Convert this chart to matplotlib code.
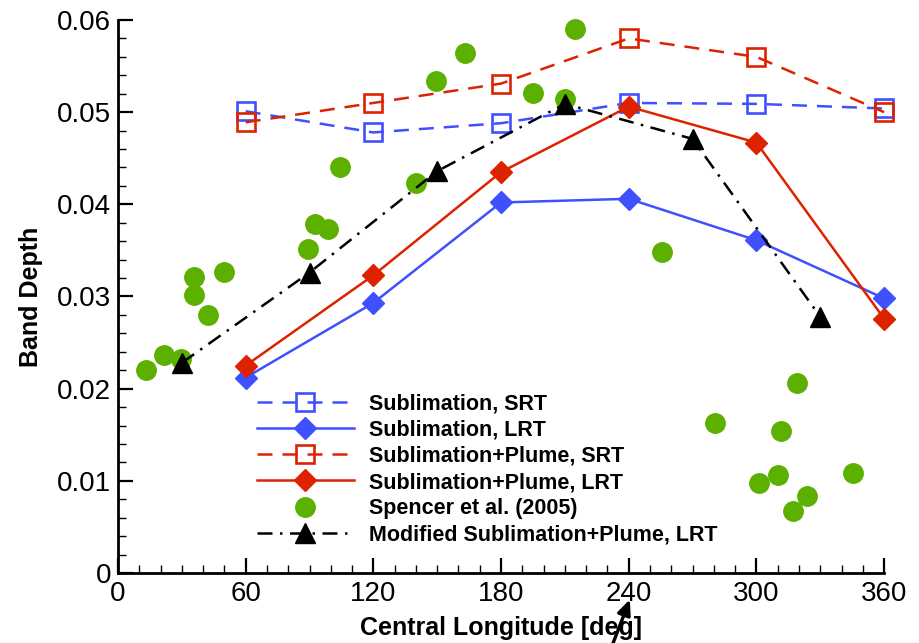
import numpy as np
import matplotlib
matplotlib.use("Agg")
import matplotlib.pyplot as plt
from matplotlib.ticker import MultipleLocator

plt.rcParams['font.family'] = ['Liberation Sans', 'DejaVu Sans']

# model longitudes (deg)
lon = [60, 120, 180, 240, 300, 360]
lon_mod = [30, 90, 150, 210, 270, 330]

# band depth for each model run
sub_srt = [0.0501, 0.0478, 0.0488, 0.0510, 0.0509, 0.0504]
sub_lrt = [0.0212, 0.0293, 0.0402, 0.0406, 0.0361, 0.0298]
plume_srt = [0.0489, 0.0510, 0.0531, 0.0580, 0.0560, 0.0500]
plume_lrt = [0.0225, 0.0323, 0.0435, 0.0506, 0.0467, 0.0276]
mod_lrt = [0.0228, 0.0326, 0.0436, 0.0509, 0.0471, 0.0278]

# Spencer et al. (2005) observations
obs_lon = [13.2, 21.6, 29.6, 35.7, 35.7, 42.3, 49.8, 89.3, 92.6, 98.7,
           104.3, 140.0, 149.4, 163.1, 195.0, 210.0, 214.8, 255.6, 280.5,
           319.0, 311.6, 310.2, 301.3, 323.8, 317.3, 345.4]
obs_bd = [0.0220, 0.0237, 0.0232, 0.0321, 0.0302, 0.0280, 0.0327, 0.0352,
          0.0379, 0.0373, 0.0440, 0.0423, 0.0534, 0.0564, 0.0521, 0.0514,
          0.0590, 0.0348, 0.0163, 0.0206, 0.0154, 0.0106, 0.0098, 0.0083,
          0.0067, 0.0108]

blue = '#4050ff'
red = '#dd2200'
green = '#5cb000'

fig = plt.figure(figsize=(9.19, 6.43), dpi=100)
ax = fig.add_axes([0.1284, 0.1089, 0.8336, 0.86])

dash = (0, (6, 4))
dashdot = (0, (6, 3, 1, 3))
lw = 1.8

l1, = ax.plot(lon, sub_srt, color=blue, ls=dash, lw=lw, marker='s', ms=13.5,
              mfc='none', mec=blue, mew=1.9, zorder=3, clip_on=False)
l2, = ax.plot(lon, sub_lrt, color=blue, ls='-', lw=lw, marker='D', ms=11.5,
              mfc=blue, mec=blue, zorder=3, clip_on=False)
l3, = ax.plot(lon, plume_srt, color=red, ls=dash, lw=lw, marker='s', ms=13.5,
              mfc='none', mec=red, mew=1.9, zorder=3, clip_on=False)
l4, = ax.plot(lon, plume_lrt, color=red, ls='-', lw=lw, marker='D', ms=11.5,
              mfc=red, mec=red, zorder=3, clip_on=False)
l5, = ax.plot(obs_lon, obs_bd, ls='none', marker='o', ms=14, mfc=green,
              mec=green, zorder=2, clip_on=False)
l6, = ax.plot(lon_mod, mod_lrt, color='black', ls=dashdot, lw=lw,
              marker='^', ms=14, mfc='black', mec='black', zorder=4,
              clip_on=False)

ax.set_xlim(0, 360)
ax.set_ylim(0, 0.06)
ax.xaxis.set_major_locator(MultipleLocator(60))
ax.xaxis.set_minor_locator(MultipleLocator(10))
ax.yaxis.set_minor_locator(MultipleLocator(0.002))
ax.set_yticks([0, 0.01, 0.02, 0.03, 0.04, 0.05, 0.06])
ax.set_yticklabels(['0', '0.01', '0.02', '0.03', '0.04', '0.05', '0.06'])

for s in ['top', 'right']:
    ax.spines[s].set_visible(False)
for s in ['left', 'bottom']:
    ax.spines[s].set_linewidth(2)

ax.tick_params(which='major', direction='in', length=11, width=1.6,
               labelsize=20, pad=5)
ax.tick_params(axis='x', which='major', pad=6)
ax.tick_params(which='minor', direction='in', length=6, width=1)

ax.set_xlabel('Central Longitude [deg]', fontsize=18, fontweight='bold',
              labelpad=6)
ax.set_ylabel('Band Depth', fontsize=18, fontweight='bold', labelpad=10)

ax.legend([l1, l2, l3, l4, l5, l6],
          ['Sublimation, SRT', 'Sublimation, LRT', 'Sublimation+Plume, SRT',
           'Sublimation+Plume, LRT', 'Spencer et al. (2005)',
           'Modified Sublimation+Plume, LRT'],
          loc='upper left', bbox_to_anchor=(0.2797, 0.388),
          bbox_transform=fig.transFigure, frameon=False, borderpad=0,
          borderaxespad=0, handlelength=4.5, handletextpad=0.7,
          labelspacing=0.24, prop={'size': 15.5, 'weight': 'bold'})

# arrow marking 240 deg
ax.annotate('', xy=(241, -0.0026), xytext=(232, -0.0080),
            xycoords='data', textcoords='data', annotation_clip=False,
            arrowprops=dict(arrowstyle='-|>,head_length=0.9,head_width=0.4',
                            color='black', lw=2.4))

fig.savefig('out.png', dpi=100)
